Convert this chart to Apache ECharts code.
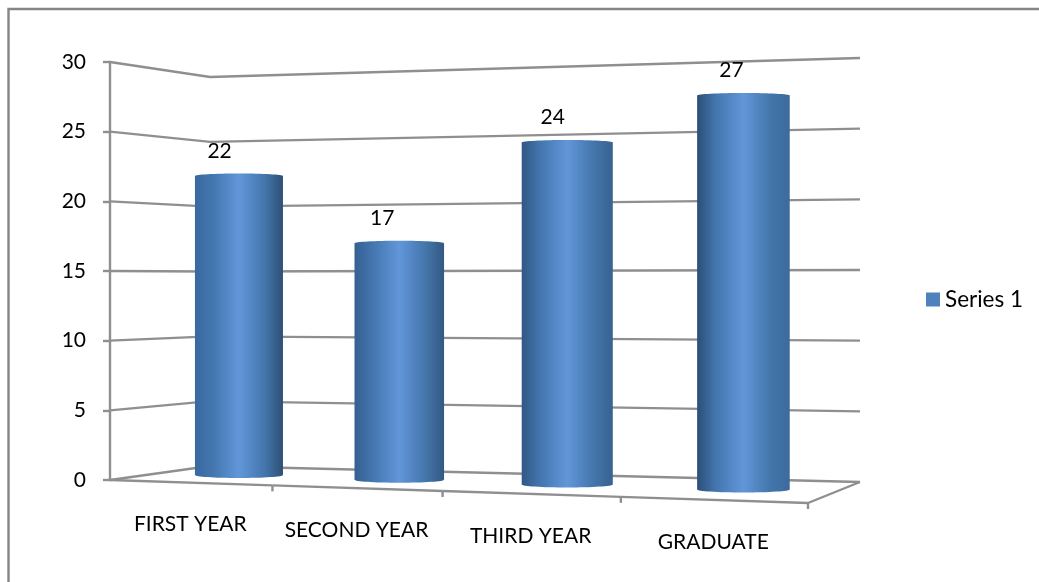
<!DOCTYPE html>
<html>
<head>
<meta charset="utf-8">
<style>html,body{margin:0;padding:0;background:#fff}#chart{width:1039px;height:582px}</style>
<script src="https://cdn.jsdelivr.net/npm/echarts@6/dist/echarts.min.js"></script>
</head>
<body>
<div id="chart"></div>
<script>
// Survey counts per student year, drawn as cylinders in a perspective box.
const categories = ['FIRST YEAR', 'SECOND YEAR', 'THIRD YEAR', 'GRADUATE'];
const seriesValues = [22, 17, 24, 27];
const yTicks = [0, 5, 10, 15, 20, 25, 30];

const FONT = 'Lato';
const FONT_SIZE = 21;
const GRID_COLOR = '#8f8f8f';
const TEXT_COLOR = '#000';

// Corners of the box: floor and ceiling, [front-left, front-right, back-right, back-left].
const FLOOR = [[110, 480], [808, 503], [860, 482], [210, 466]];
const CEILING = [[110, 62], [808, 39], [860, 58], [210, 77]];
// Foreshortening along the category direction.
const FORESHORTEN = -0.09;
// Depth of the cylinder axes inside the box.
const BAR_DEPTH = 0.515;

const mix = (a, b, t) => a + (b - a) * t;
const mixPt = (a, b, t) => [mix(a[0], b[0], t), mix(a[1], b[1], t)];

function quadAt(q, u, w) {
  const t = u * (1 + FORESHORTEN) / (1 + FORESHORTEN * u);
  return mixPt(mixPt(q[0], q[1], t), mixPt(q[3], q[2], t), w);
}

// u: along the categories, v: up the value axis, w: into the depth of the box.
function project(u, v, w) {
  const f = quadAt(FLOOR, u, w), c = quadAt(CEILING, u, w);
  return [f[0], mix(f[1], c[1], v)];
}

// Normalised box coordinates of a category/value pair.
function toBox(api, params, cat, value) {
  const p = api.coord([cat, value]);
  const g = params.coordSys;
  return {
    u: (p[0] - g.x) / g.width,
    v: (g.y + g.height - p[1]) / g.height,
    band: api.size([1, 0])[0] / g.width,
    bandPx: api.size([1, 0])[0]
  };
}

function line(points) {
  return {
    type: 'polyline',
    shape: { points },
    style: { stroke: GRID_COLOR, lineWidth: 2.4, fill: null },
    silent: true
  };
}

function renderWalls(params, api) {
  const level = toBox(api, params, 0, api.value(0)).v;
  return line([project(0, level, 0), project(0, level, 1), project(1, level, 1)]);
}

function renderFloor(params, api) {
  const i = api.value(0);
  const b = toBox(api, params, i, 0);
  const a = project(b.u - b.band / 2, 0, 0);
  const c = project(b.u + b.band / 2, 0, 0);
  const mid = project(b.u, 0, 0);
  const children = [
    line([a, c]),
    line([c, [c[0], c[1] + 6]]),
    {
      type: 'text',
      style: {
        text: categories[i],
        x: mid[0],
        y: mid[1] + 42,
        align: 'center',
        verticalAlign: 'middle',
        font: FONT_SIZE + 'px ' + FONT,
        fill: TEXT_COLOR
      }
    }
  ];
  if (i === categories.length - 1) children.push(line([c, project(1, 0, 1)]));
  return { type: 'group', children };
}

// Shading shifts as the cylinders move across the lit scene.
function sideFill(u) {
  const leftEdge = echarts.color.lerp(u, ['#3c6ca8', '#2a4a70']);
  const rightEdge = echarts.color.lerp(u, ['#2c4a6e', '#3f6ea4']);
  return {
    type: 'linear', x: 0, y: 0, x2: 1, y2: 0,
    colorStops: [
      { offset: 0, color: leftEdge },
      { offset: 0.2, color: '#4376ae' },
      { offset: 0.5, color: '#6196d9' },
      { offset: 0.8, color: '#4375aa' },
      { offset: 1, color: rightEdge }
    ]
  };
}

function renderBar(params, api) {
  const i = api.value(0), val = api.value(1);
  const b = toBox(api, params, i, val);
  const base = project(b.u, 0, BAR_DEPTH);
  const top = project(b.u, b.v, BAR_DEPTH);
  const barWidth = b.bandPx * 0.5 * (1 + 0.07 * b.u);
  const rx = barWidth / 2, ry = 3;
  const cx = base[0];
  const fill = sideFill(b.u);
  const labelAnchor = project(b.u, b.v, 0.31);
  return {
    type: 'group',
    children: [
      { type: 'ellipse', shape: { cx, cy: base[1], rx, ry }, style: { fill } },
      { type: 'rect', shape: { x: cx - rx, y: top[1], width: barWidth, height: base[1] - top[1] }, style: { fill } },
      { type: 'ellipse', shape: { cx, cy: top[1], rx, ry: 2.5 }, style: { fill } },
      {
        type: 'text',
        style: {
          text: String(val),
          x: labelAnchor[0],
          y: top[1] - 25,
          align: 'center',
          verticalAlign: 'middle',
          font: FONT_SIZE + 'px ' + FONT,
          fill: TEXT_COLOR
        }
      }
    ]
  };
}

const chart = echarts.init(document.getElementById('chart'), null, { renderer: 'canvas' });
chart.setOption({
  animation: false,
  backgroundColor: '#fff',
  graphic: [{
    type: 'polyline',
    shape: { points: [[8.5, 582], [8.5, 9], [1039, 9]] },
    style: { fill: null, stroke: '#858585', lineWidth: 2.4 },
    silent: true
  }],
  legend: {
    data: ['Series 1'],
    left: 921,
    top: 283,
    itemWidth: 14,
    itemHeight: 14,
    itemGap: 5,
    icon: 'rect',
    selectedMode: false,
    textStyle: { fontFamily: FONT, fontSize: 22.5, color: TEXT_COLOR }
  },
  grid: { left: 110, top: 62, width: 698, height: 418, containLabel: false },
  xAxis: {
    type: 'category',
    data: categories,
    axisLine: { show: false },
    axisTick: { show: false },
    axisLabel: { show: false },
    splitLine: { show: false }
  },
  yAxis: {
    type: 'value',
    min: 0,
    max: 30,
    interval: 5,
    axisLine: { show: true, lineStyle: { color: GRID_COLOR, width: 2.4 } },
    axisTick: { show: true, length: 7, lineStyle: { color: GRID_COLOR, width: 2.4 } },
    axisLabel: { margin: 24, fontFamily: FONT, fontSize: FONT_SIZE, color: TEXT_COLOR, formatter: v => String(v) },
    splitLine: { show: false }
  },
  series: [
    {
      type: 'custom',
      name: 'walls',
      coordinateSystem: 'cartesian2d',
      renderItem: renderWalls,
      data: yTicks.map(v => [v]),
      encode: { x: -1, y: 0 },
      silent: true,
      z: 1
    },
    {
      type: 'custom',
      name: 'floor',
      coordinateSystem: 'cartesian2d',
      renderItem: renderFloor,
      data: categories.map((c, i) => [i]),
      encode: { x: 0, y: -1 },
      silent: true,
      z: 1
    },
    {
      type: 'custom',
      name: 'Series 1',
      coordinateSystem: 'cartesian2d',
      renderItem: renderBar,
      itemStyle: { color: '#4f81bd' },
      data: seriesValues.map((v, i) => [i, v]),
      encode: { x: 0, y: 1 },
      z: 2
    }
  ]
});
</script>
</body>
</html>
